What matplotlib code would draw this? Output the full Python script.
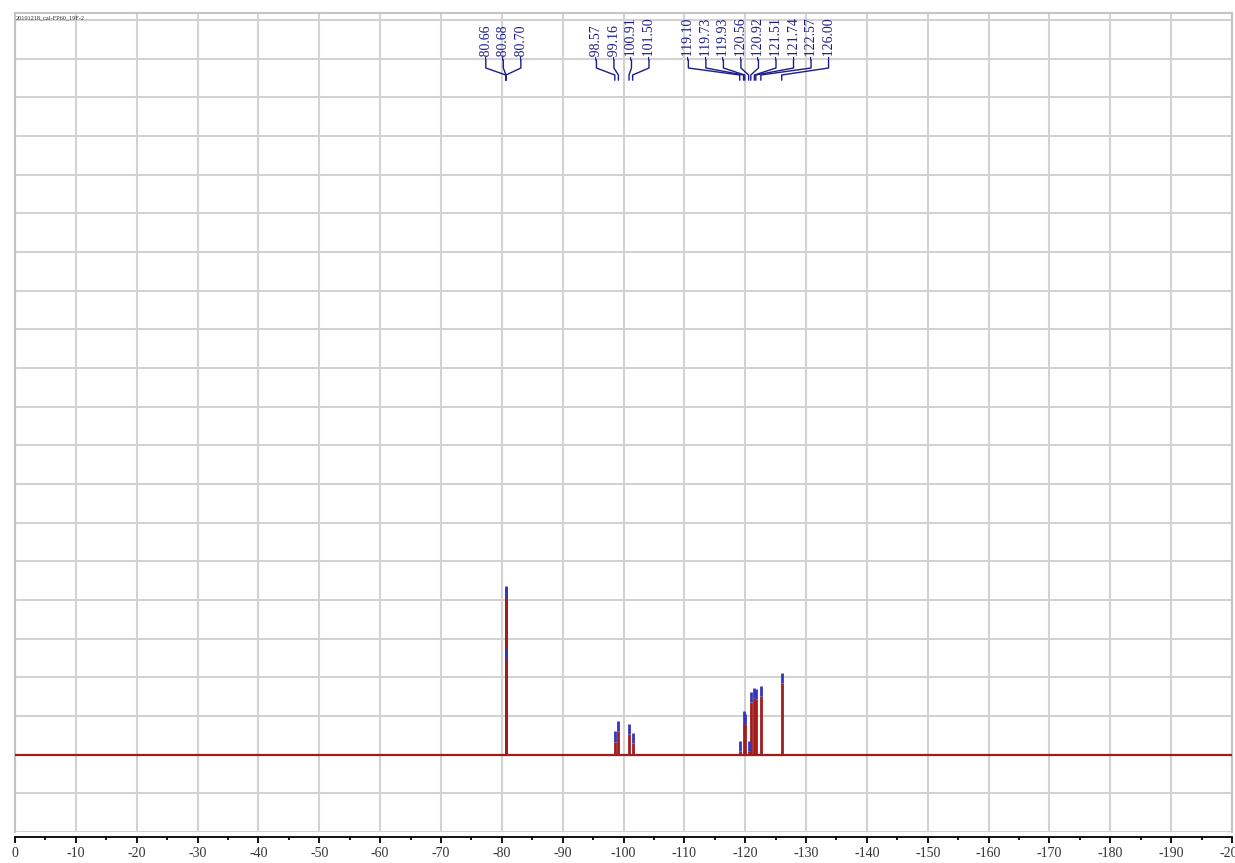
import numpy as np
import matplotlib.pyplot as plt
from matplotlib.ticker import MultipleLocator, FuncFormatter

# peak shifts (ppm) and heights (arbitrary units, baseline = 0)
shifts = [-80.66, -80.68, -80.70,
          -98.57, -99.16, -100.91, -101.50,
          -119.10, -119.73, -119.93, -120.56, -120.92,
          -121.51, -121.74, -122.57, -126.00]
heights = [2.50, 4.10, 4.05,
           0.34, 0.60, 0.54, 0.31,
           0.10, 0.88, 0.80, 0.10, 1.37,
           1.47, 1.45, 1.52, 1.86]
labels = ["-80.66", "-80.68", "-80.70",
          "-98.57", "-99.16", "-100.91", "-101.50",
          "-119.10", "-119.73", "-119.93", "-120.56", "-120.92",
          "-121.51", "-121.74", "-122.57", "-126.00"]
# label groups: (first index, count, centre of labels in ppm)
groups = [(0, 3, -80.25), (3, 4, -99.87), (7, 9, -122.18)]
title = "20191218_cal-FP60_19F-2"


def main():
    plt.rcParams["font.family"] = ["Liberation Serif", "DejaVu Serif"]
    plt.rcParams["axes.unicode_minus"] = False

    fig = plt.figure(figsize=(12.35, 8.63), dpi=100)
    # axes box: x 15..1232 px, y 13..832 px
    ax = fig.add_axes([15 / 1235, (863 - 832) / 863, 1217 / 1235, 819 / 863])

    red = "#a31c1c"
    blue = "#3535b8"
    navy = "#1c1c8a"
    grid = "#d2d2d2"

    ax.set_xlim(0, -200)
    ax.set_ylim(-2, 19.18)

    # baseline and peaks
    ax.axhline(0, color=red, lw=1.6, zorder=3)
    ax.vlines(shifts, 0, heights, color=red, lw=2.0, zorder=4)
    h = np.array(heights)
    ax.vlines(shifts, h, h + 0.26, color=blue, lw=2.0, zorder=5)

    # grid / frame
    ax.xaxis.set_major_locator(MultipleLocator(10))
    ax.xaxis.set_minor_locator(MultipleLocator(5))
    ax.yaxis.set_major_locator(MultipleLocator(1))
    ax.grid(True, which="major", color=grid, lw=1.5, zorder=0)
    ax.tick_params(axis="y", left=False, labelleft=False)
    for s in ("top", "left", "right"):
        ax.spines[s].set_color("#c4c4c4")
        ax.spines[s].set_linewidth(1.5)
    ax.spines["bottom"].set_position(("outward", 3.8))
    ax.spines["bottom"].set_color("black")
    ax.spines["bottom"].set_linewidth(1.3)
    ax.tick_params(axis="x", which="major", direction="out", length=4,
                   width=1.3, pad=3, labelsize=10, labelcolor="#333333")
    ax.tick_params(axis="x", which="minor", direction="out", length=2,
                   width=1.3)
    ax.xaxis.set_major_formatter(FuncFormatter(lambda v, p: f"{int(round(v))}"))

    # peak labels with leader lines
    def yf(px):
        return (832 - px) / 819

    tr = ax.get_xaxis_transform()
    step = 2.88
    for start, n, centre in groups:
        for k in range(n):
            i = start + k
            lx = centre - (k - (n - 1) / 2) * step
            ax.text(lx, yf(60), labels[i], rotation=90, ha="center",
                    va="bottom", fontsize=10, color=navy, transform=tr)
            ax.plot([lx, lx, shifts[i], shifts[i]],
                    [yf(60), yf(68), yf(75), yf(80)],
                    color=navy, lw=1.0, transform=tr, clip_on=False)

    fig.text(16 / 1235, 1 - 18 / 863, title, fontsize=4.5, color="#333333",
             va="center", ha="left")

    fig.savefig("out.png", dpi=100)


if __name__ == "__main__":
    main()
